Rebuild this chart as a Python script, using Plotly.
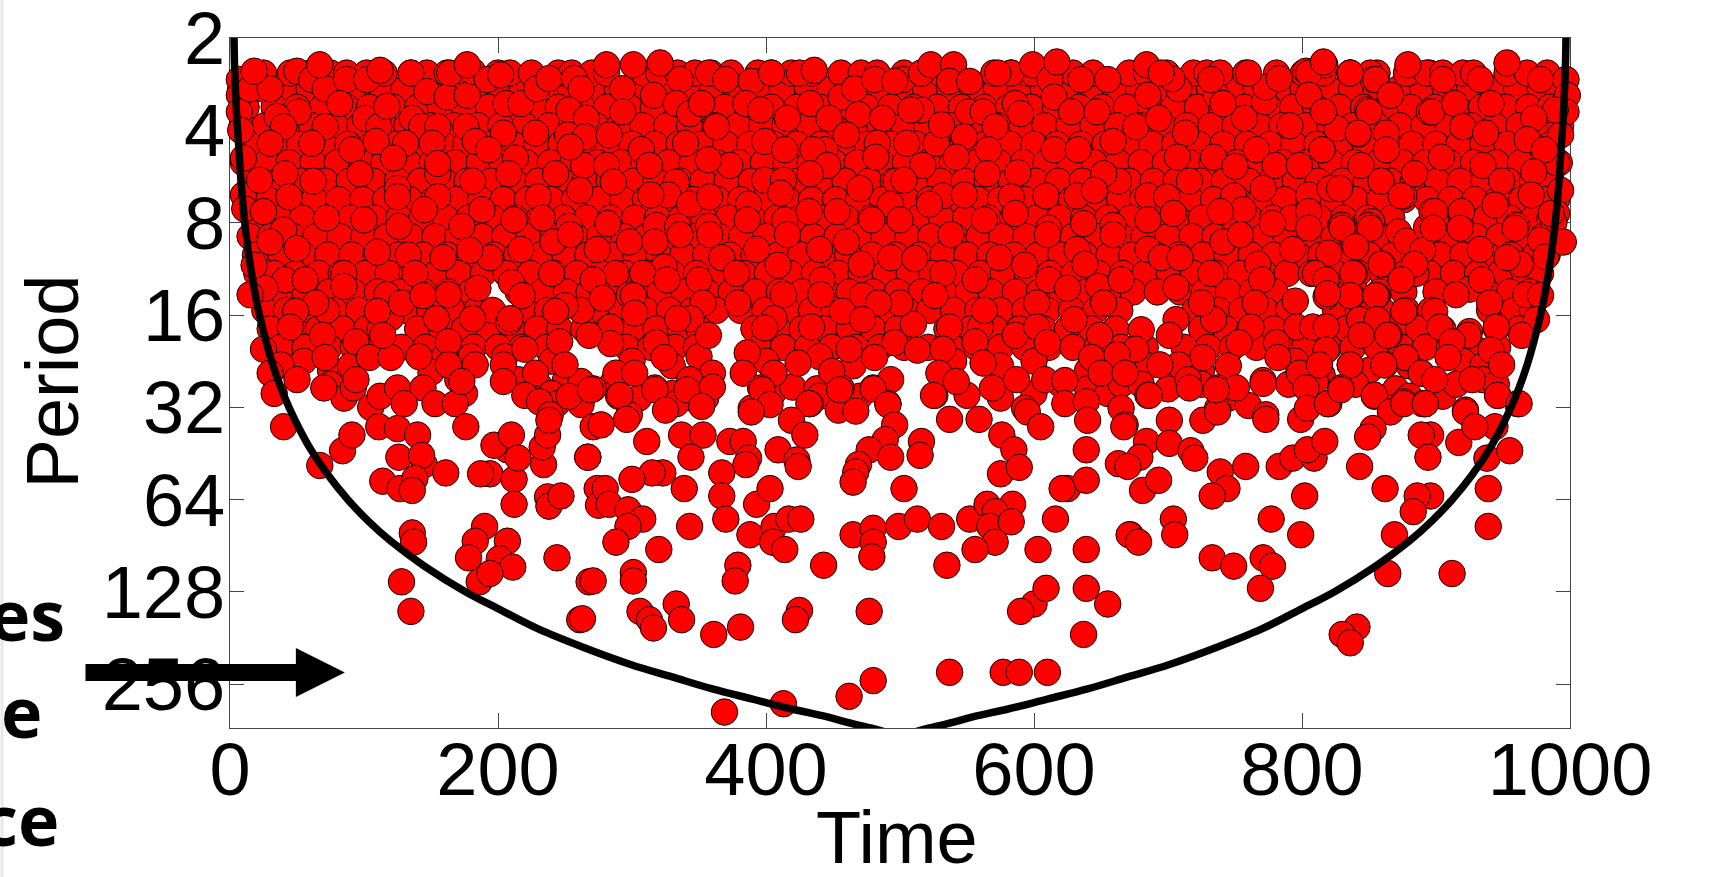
import plotly.graph_objects as go

# (time, log2 of period)
# Dense background rows, read as the solid red mass: log2 period -> times
row_155 = [8,24,43,59,78,96,113,130,149,165,184,201,218,237,254,272,289,307,324,343,360,378,395,412,431,448,466,483,502,519,537,554,572,590,607,625,642,661,678,696,713,731,749,766,784,801,820,837,855,872,890,907,925,943,960,978,991]
row_175 = [12,33,50,69,87,104,122,140,157,175,193,210,228,245,263,281,298,316,334,351,369,386,404,423,440,457,475,493,510,528,546,563,581,598,616,634,651,669,687,704,722,740,757,775,793,810,828,846,863,881,899,916,934,952,969,985]
row_195 = [9,26,45,61,79,97,115,132,150,167,185,202,220,238,255,273,291,308,326,343,362,379,397,414,432,450,467,485,503,520,538,556,573,591,608,626,644,662,679,697,714,732,750,768,785,803,821,838,856,873,891,909,926,944,962,979,993]
row_215 = [14,35,52,70,88,106,124,141,159,176,194,211,229,247,264,282,300,317,335,352,370,388,406,423,441,458,476,494,512,529,547,564,582,600,617,635,653,670,688,705,723,741,759,776,794,811,829,847,865,882,900,917,935,953,971,986]
row_235 = [10,27,44,62,80,98,115,133,151,168,186,203,221,239,256,274,292,309,327,345,363,380,398,415,433,451,468,486,504,521,539,557,574,592,609,627,645,663,680,698,716,733,751,769,786,804,822,839,857,875,892,910,928,945,963,980,992]
row_255 = [16,36,53,71,89,107,125,142,160,177,195,212,230,248,265,283,301,318,336,353,371,389,407,424,442,459,477,495,513,530,548,565,583,601,618,636,654,671,689,706,724,742,760,777,795,812,830,848,866,883,901,918,936,954,972,986]
row_275 = [12,28,46,63,81,99,116,134,152,169,187,204,222,240,257,275,293,310,328,346,364,381,399,416,434,452,469,487,505,522,540,558,575,593,610,628,646,664,681,699,717,734,752,770,787,805,823,840,858,876,893,911,929,946,964,981,990]
row_295 = [18,37,54,72,90,108,126,143,161,178,196,213,231,249,266,284,302,319,337,354,372,390,408,425,443,460,478,496,514,531,549,566,584,602,619,637,655,672,690,707,725,743,761,778,796,813,831,849,867,902,919,937,955,973,985]
row_315 = [15,30,47,64,82,100,117,135,153,170,188,205,223,241,258,276,294,311,329,347,365,382,400,417,435,453,470,488,506,523,541,559,576,594,611,629,647,665,682,700,718,735,753,771,788,806,824,841,859,899,912,930,947,965,980,988]
row_335 = [19,38,55,73,91,109,126,144,162,179,197,214,232,250,267,285,303,320,338,355,373,391,409,426,444,461,479,497,515,532,550,567,585,603,620,638,656,673,691,708,726,744,762,779,797,814,832,850,868,903,920,938,956,974,983]
row_355 = [20,33,49,66,83,101,118,136,154,171,189,206,224,242,259,277,295,312,330,348,366,383,401,418,436,454,471,489,507,524,542,560,577,595,612,630,648,666,683,701,719,736,754,772,789,807,825,842,860,877,895,913,931,948,966,978]
row_375 = [22,39,56,74,92,110,127,145,163,180,215,233,251,268,286,304,321,339,356,374,392,410,427,445,462,480,498,516,533,551,568,586,604,621,639,657,674,692,709,727,745,763,780,822,840,858,876,900,938,955,970]
row_395 = [26,42,60,78,96,113,131,149,166,184,220,237,275,292,310,328,345,363,381,399,416,434,451,469,487,505,522,540,558,575,593,610,628,646,664,720,738,755,773,790,825,842,860,878,896,940,958,972]
row_415 = [30,48,66,84,102,112,140,158,175,193,211,229,246,264,282,300,318,336,350,391,409,427,444,462,480,498,535,553,571,589,607,625,643,661,725,743,761,779,797,815,833,851,869,887,905,945,962]
row_435 = [38,56,74,92,110,128,146,164,182,200,218,236,296,314,332,348,395,413,431,449,467,485,503,521,539,557,575,593,611,629,647,665,683,712,730,748,766,784,802,820,838,856,874,892,910,928,946]
scattered_450 = [(55,4.5),(75,4.6),(90,4.55),(160,4.45),(180,4.45),(205,4.45),(240,4.5),(300,4.5),(330,4.55),(350,4.45),(400,4.5),(440,4.45),(465,4.55),(540,4.5),(575,4.55),(600,4.5),(640,4.6),(685,4.55),(725,4.6),(745,4.55),(795,4.5),(815,4.65),(850,4.6),(880,4.55),(920,4.5),(935,4.55)]
scattered_hole_edges = [(110,3.32),(196,3.95),(208,4.08),(262,3.95),(250,3.90),(872,3.10),(878,3.20),(120,4.03),
    (925,3.72),(915,3.78),(925,4.18),(893,3.05),(890,3.30),(795,3.85),(680,4.16),(510,4.10),(210,3.65)]
scattered_475 = [(75,4.75),(85,4.9),(105,5.0),(150,4.62),(170,4.7),(175,4.85),(215,4.7),(230,4.75),(250,4.72),(262,4.72),(240,4.85),(262,4.97),(285,4.75),(305,4.9),(345,4.9),(330,4.85),(355,4.9),(405,4.85),(420,4.78),(438,4.8),(440,4.88),(470,4.88),(550,4.87),(575,4.9),(600,4.85),(620,4.75),(640,4.8),(655,4.85),(665,4.75),(680,4.75),(700,4.8),(725,4.75),(745,4.9),(760,4.98),(790,4.75),(810,4.72),(840,4.75),(870,4.8),(880,4.88),(905,4.88),(915,4.75),(935,4.7),(945,4.75)]
top_times = [18,25,45,60,75,87,102,115,135,147,162,177,200,209,225,245,255,270,281,
    309,320,334,347,359,374,394,404,419,434,456,471,483,503,516,530,540,570,583,595,
    599,614,629,644,671,684,699,719,729,739,758,781,801,816,836,856,880,895,
    851,878,893,905,920,928,953,968,983]
right_left_edges = [(7,1.45),(7,1.62),(7,1.80),(8,2.0),(10,2.3),(10,2.7),(11,2.85),
    (997,1.45),(998,1.62),(997,1.80),(993,2.05),(990,2.35),(993,2.65),(990,2.9),(988,3.0)]
upper_a = [(15,1.55),(30,1.55),(50,1.36),(61,1.45),(71,1.55),(67,1.29),(18,1.36),(87,1.45),(102,1.45),(135,1.38),(147,1.58),(162,1.64),(177,1.62),(164,1.38),(181,1.36),(192,1.45),(206,1.71),(217,1.71),(229,1.55),(238,1.44),(257,1.44),(262,1.55),(281,1.29),(293,1.55),(253,1.78),(266,1.87),(293,1.80),(177,1.29),(202,1.40),(112,1.35),
(51,1.80),(35,1.85),(40,1.96),(71,1.96),(82,1.71),(101,1.87),(111,1.96),(117,1.74),(136,1.87),(143,1.96),(155,1.96),(176,1.96),(204,2.03),(228,2.03),(252,2.05),(265,2.07),(283,2.05),
(30,2.14),(61,2.14),(91,2.21),(109,2.12),(131,2.14),(122,2.30),(151,2.14),(183,2.12),(193,2.21),(213,2.30),(264,2.38),(281,2.38),(254,2.18),
(22,2.54),(41,2.47),(62,2.55),(97,2.47),(155,2.47),(181,2.55),(208,2.47),(243,2.47),(155,2.36),
(44,2.72),(25,2.88),(72,2.95),(100,2.97),(125,2.63),(155,2.72),(188,2.86),(230,2.72),(261,2.65),(286,2.56),(125,2.72),(145,2.86),(233,2.95),(253,3.04),(126,3.04),(40,3.08),(173,3.04),(212,2.97),(282,3.01)]
upper_b = [(301,1.29),(321,1.27),(336,1.45),(357,1.38),(370,1.45),(389,1.47),(404,1.38),(425,1.38),(436,1.35),(456,1.64),(466,1.55),(481,1.45),(502,1.45),(496,1.47),(516,1.38),(523,1.29),(540,1.29),(537,1.47),(552,1.47),(583,1.38),(573,1.38),(599,1.29),
(316,1.62),(333,1.71),(343,1.82),(352,1.71),(385,1.71),(396,1.78),(416,1.87),(433,1.71),(447,1.87),(469,1.83),(487,1.87),(516,1.78),(508,1.78),(551,1.80),(562,1.80),(586,1.71),(590,1.82),(571,1.96),
(363,1.96),(340,2.14),(307,2.21),(399,2.12),(414,2.21),(444,2.21),(460,2.05),(483,2.14),(505,2.14),(527,2.14),(566,2.21),(548,2.07),(531,1.94),(435,2.21),
(313,2.38),(373,2.38),(357,2.32),(399,2.54),(413,2.54),(446,2.38),(433,2.47),(482,2.29),(517,2.38),(542,2.29),(565,2.47),(588,2.46),(497,2.55),(503,2.54),(333,2.56),
(327,2.70),(343,2.80),(358,2.72),(314,2.70),(387,2.80),(411,2.68),(432,2.88),(453,2.88),(470,2.63),(493,2.80),(532,2.71),(522,2.80),(548,2.70),(583,2.72),(563,2.97),(479,2.97),(500,2.97),(414,2.97),(318,3.03),(334,3.04),(357,3.04),(586,2.90),(386,2.97)]
upper_c = [(612,1.45),(635,1.45),(655,1.45),(615,1.64),(628,1.80),(647,1.80),(685,1.62),(708,1.55),(736,1.62),(741,1.71),(772,1.69),(773,1.53),(805,1.62),(803,1.36),(817,1.29),(684,1.29),(617,1.26),(836,1.38),(853,1.45),(866,1.62),(849,1.78),(895,1.80),(760,1.38),(732,1.45),(703,1.44),(695,1.38),(783,1.44),
(676,1.96),(693,1.87),(713,2.03),(757,1.87),(791,1.95),(842,2.04),(863,2.21),(766,2.21),(734,2.29),(780,2.38),(815,2.21),(659,2.12),(615,2.21),(633,2.21),(826,1.98),
(798,2.38),(707,2.29),(716,2.55),(663,2.55),(652,2.47),(859,2.55),(828,2.63),(884,2.47),(844,2.38),(750,2.39),
(609,2.71),(632,2.71),(645,2.65),(685,2.71),(749,2.71),(771,2.63),(805,2.70),(876,2.71),(699,2.72),(704,2.90),(685,2.97),(756,2.86),(792,2.95),(778,3.01),(829,3.03),(852,2.99),(897,2.88),(637,3.01),(611,3.06),(659,3.03),(739,2.88),(821,2.63)]
upper_d = [(805,1.38),(816,1.26),(836,1.38),(855,1.45),(866,1.62),(805,1.62),(816,1.80),(850,1.80),(879,1.29),(905,1.45),(897,1.80),(914,1.71),(933,1.45),(953,1.27),(941,1.71),(978,1.45),(989,1.78),(973,1.87),(920,1.96),(842,2.03),(863,2.03),(937,2.03),(815,2.21),(863,2.21),(904,2.29),(968,2.10),(981,2.21),(884,2.47),(859,2.55),(935,2.38),(949,2.55),(828,2.63),(973,2.45),(971,2.70),(874,2.71),(944,2.81),(919,2.88),(899,2.88),(805,2.88),(830,3.03),(960,3.03),(986,2.90),(850,3.03)]
middle_a = [(30,3.21),(50,3.28),(41,3.62),(56,3.62),(26,3.71),(85,3.55),(85,3.69),(18,3.46),(15,3.78),(72,3.95),(64,3.87),(49,3.96),(45,4.13),(69,4.22),(94,4.29),(104,4.46),(120,4.46),(141,4.45),(117,3.78),(110,3.96),(114,4.22),(128,3.87),(133,3.35),(159,3.38),(138,3.55),(144,3.79),(163,3.78),(185,3.71),(194,3.38),(179,3.30),(217,3.29),(218,3.79),(240,3.55),(241,3.21),(274,3.29),(288,3.55),(271,3.62),(278,3.82),(254,3.13),(154,4.04),(181,4.04),(209,4.04),(163,4.29),(163,4.54),(183,4.54),(204,4.54),(220,4.37),(246,4.29),(243,3.96),(250,4.54),(228,4.63),(284,4.13),(284,4.31),(268,4.22),(298,3.21),(298,3.78),(25,4.37),(71,4.46),(38,4.54),(30,4.63),(50,4.70),(33,4.85),(70,4.79),(92,4.79),(94,4.70),(112,4.88),(125,4.79),(144,4.79),(130,4.96),(153,4.96),(168,4.96),(173,4.72),(204,4.72),(220,4.87),(244,4.96),(253,4.88),(271,4.80),(288,4.63),(290,4.88),(298,5.08),(231,4.94),(239,5.08)]
middle_b = [(317,3.21),(336,3.13),(358,3.13),(393,3.29),(416,3.13),(440,3.29),(460,3.21),(367,3.38),(324,3.48),(308,3.55),(326,3.62),(350,3.62),(378,3.55),(409,3.46),(471,3.45),(493,3.38),(511,3.39),(538,3.13),(574,3.38),(593,3.46),(532,3.55),(556,3.62),(442,3.62),(441,3.78),(413,3.78),(472,3.79),(526,3.79),(500,3.87),(484,3.87),(353,3.87),(379,3.87),(301,3.79),(302,3.98),(344,4.04),(334,4.04),(406,4.04),(399,4.14),(434,4.13),(457,3.96),(472,4.05),(537,4.13),(560,4.13),(586,4.22),(563,3.95),(357,4.22),(318,4.30),(324,4.46),(496,4.30),(513,4.38),(462,4.37),(481,4.46),(532,4.37),(556,4.29),(424,4.52),(386,4.41),(383,4.63),(406,4.63),(396,4.79),(360,4.63),(343,4.70),(317,4.79),(302,4.63),(456,4.79),(480,4.79),(493,4.70),(526,4.87),(529,4.63),(542,4.72),(569,4.79),(587,4.70),(433,4.96),(333,4.96),(449,4.61),(562,4.52),(491,4.96),(593,5.01),(389,5.01),(454,5.03)]
middle_c = [(610,3.13),(632,3.29),(638,3.45),(659,3.13),(685,3.29),(695,3.38),(709,3.38),(741,3.21),(754,3.13),(793,3.29),(732,3.55),(767,3.45),(770,3.62),(818,3.62),(839,3.55),(860,3.45),(885,3.55),(611,3.62),(625,3.71),(648,3.69),(665,3.62),(706,3.70),(839,3.24),(820,3.33),(602,3.87),(652,3.87),(630,4.05),(602,4.13),(706,4.05),(734,4.05),(765,3.87),(725,3.87),(837,3.79),(818,3.80),(856,3.79),(876,3.96),(843,4.05),(818,4.13),(796,4.13),(649,4.22),(701,4.22),(762,4.13),(753,4.30),(865,4.22),(781,4.30),(610,4.30),(676,4.37),(726,4.46),(782,4.46),(813,4.54),(836,4.54),(877,4.46),(643,4.46),(662,4.43),(818,4.38),(608,4.70),(623,4.71),(650,4.63),(668,4.63),(708,4.54),(694,4.54),(715,4.70),(737,4.79),(751,4.79),(771,4.71),(798,4.63),(829,4.79),(854,4.88),(889,4.63),(862,4.54),(623,4.96),(639,4.94),(685,4.87),(665,5.01),(737,5.01),(773,5.08),(890,4.96),(803,4.79)]
middle_d = [(805,3.06),(830,3.06),(851,3.06),(898,3.06),(918,3.06),(959,3.06),(933,3.29),(978,3.19),(963,3.45),(982,3.37),(995,3.21),(953,3.38),(859,3.45),(840,3.26),(884,3.45),(838,3.55),(810,3.55),(818,3.62),(934,3.62),(874,3.62),(836,3.79),(855,3.79),(819,3.77),(808,4.13),(876,3.96),(843,4.05),(856,4.05),(818,4.13),(899,3.96),(903,4.13),(844,4.22),(864,4.22),(940,3.87),(967,3.78),(978,3.79),(975,4.05),(945,4.13),(924,4.22),(912,4.29),(964,4.22),(818,4.38),(813,4.54),(836,4.54),(877,4.46),(861,4.54),(909,4.46),(941,4.38),(949,4.54),(889,4.63),(927,4.70),(946,4.87),(829,4.79),(854,4.87),(899,4.70),(866,5.01),(892,4.96),(820,4.96),(922,5.03),(961,4.96),(876,4.94)]
lower_a = [(40,5.21),(67,5.63),(84,5.47),(91,5.30),(111,5.21),(125,5.23),(140,5.30),(176,5.21),(126,5.54),(145,5.62),(143,5.52),(161,5.71),(114,5.80),(127,5.88),(138,5.77),(136,5.90),(136,6.36),(137,6.46),(190,6.29),(207,6.45),(183,6.45),(178,6.63),(201,6.64),(211,6.73),(186,6.89),(194,6.80),(244,6.63),(128,6.89),(135,7.21),(268,6.89),(261,7.30),(194,5.72),(187,5.72),(212,5.78),(212,6.05),(207,5.46),(197,5.41),(210,5.30),(215,5.55),(234,5.62),(233,5.43),(237,5.30),(238,5.14),(237,5.97),(238,6.07),(247,5.96),(267,5.54),(271,5.21),(274,5.88),(275,6.06)]
lower_b = [(269,4.81),(291,4.87),(317,4.81),(341,4.81),(360,4.78),(277,5.19),(296,5.13),(311,5.37),(325,5.03),(352,4.99),(397,4.81),(403,4.97),(389,5.05),(432,4.96),(419,5.14),(429,5.30),(455,4.81),(467,5.04),(480,4.80),(491,4.97),(496,5.19),(489,5.35),(477,5.46),(469,5.62),(467,5.70),(465,5.81),(525,4.87),(537,5.13),(559,5.13),(516,5.37),(493,5.54),(515,5.52),(576,5.30),(595,5.05),(605,5.21),(585,5.46),(575,5.72),(589,5.65),(640,5.14),(639,5.46),(668,5.19),(663,5.61),(625,5.88),(639,5.79),(621,5.88),(267,5.54),(337,5.30),(353,5.30),(373,5.37),(383,5.37),(387,5.55),(385,5.62),(409,5.46),(423,5.57),(424,5.64),(344,5.54),(323,5.71),(315,5.71),(300,5.78),(280,5.88),(283,6.05),(297,6.11),(308,6.21),(297,6.29),(288,6.46),(320,6.54),(339,5.88),(367,5.71),(367,5.96),(370,6.21),(393,6.05),(403,5.88),(388,6.38),(406,6.29),(417,6.21),(426,6.21),(405,6.46),(414,6.54),(343,6.29),(271,6.88),(301,6.79),(301,6.88),(379,6.71),(377,6.88),(443,6.71),(465,6.38),(480,6.31),(480,6.46),(479,6.62),(499,6.29),(513,6.21),(531,6.29),(552,6.21),(565,6.05),(584,6.05),(571,6.13),(567,6.29),(583,6.24),(571,6.46),(556,6.54),(616,6.21),(603,6.54),(639,6.54),(672,6.38),(535,6.71),(503,5.88),(263,7.29),(306,7.21),(313,7.30),(316,7.39),(333,7.13),(337,7.30),(361,7.46),(381,7.38),(425,7.20),(422,7.30),(477,7.21),(600,7.13),(590,7.21),(609,6.96),(639,6.96),(655,7.13),(637,7.46),(537,7.87),(577,7.87),(589,7.87),(610,7.87),(480,7.96),(462,8.13),(413,8.21),(369,8.30)]
lower_c = [(686,4.87),(701,5.14),(667,5.21),(726,5.14),(737,5.05),(716,4.79),(736,4.81),(771,4.74),(773,5.13),(799,5.13),(804,5.01),(819,4.96),(829,4.81),(854,4.87),(866,5.05),(876,4.96),(892,4.96),(922,5.05),(946,4.87),(962,4.96),(944,5.21),(896,5.30),(889,5.30),(917,5.38),(929,5.21),(853,5.23),(849,5.32),(684,5.37),(701,5.39),(717,5.47),(720,5.55),(679,5.54),(670,5.64),(681,5.90),(693,5.79),(739,5.70),(744,5.88),(733,5.96),(758,5.64),(783,5.64),(793,5.55),(809,5.55),(804,5.46),(817,5.37),(843,5.64),(862,5.88),(894,5.54),(938,5.55),(955,5.47),(896,5.96),(886,5.96),(883,6.13),(939,5.88),(802,5.96),(777,6.21),(704,6.21),(705,6.38),(671,6.38),(678,6.46),(799,6.38),(869,6.38),(939,6.29),(733,6.63),(749,6.72),(771,6.63),(778,6.72),(769,6.96),(864,6.80),(912,6.80),(841,7.38),(830,7.46),(836,7.55)]

coi_left_time = [3,3.4,4.2,5.2,6.4,8.2,11,13,16,19,22,27,32,38,44,52,60,73,88,103,120,145,176,200,230,262,300,330,360,390,420,445,460,478,490]
coi_right_time = [997,996.6,995.8,994.8,993.6,991.8,989,987,984,981,978,973,968,962,956,948,940,927,912,897,880,855,824,800,770,738,700,670,640,610,580,555,540,522,510]
coi_log2 = [1.0,1.3,1.6,1.9,2.15,2.55,3.0,3.24,3.54,3.79,4.0,4.29,4.54,4.79,5.0,5.24,5.45,5.73,6.0,6.23,6.45,6.72,7.0,7.18,7.40,7.59,7.79,7.92,8.05,8.16,8.27,8.35,8.41,8.473,8.52]

y_ticks = [1,2,3,4,5,6,7,8]
y_labels = ["2","4","8","16","32","64","128","256"]
x_ticks = [0,200,400,600,800,1000]

W, H = 1721, 877
L, R, T, B = 229.6, 1570.4, 38.1, 728.0
def px(x): return (x - L) / (R - L)
def py(y): return (B - y) / (B - T)

rows = [(1.55,row_155),(1.75,row_175),(1.95,row_195),(2.15,row_215),(2.35,row_235),(2.55,row_255),(2.75,row_275),(2.95,row_295),
        (3.15,row_315),(3.35,row_335),(3.55,row_355),(3.75,row_375),(3.95,row_395),(4.15,row_415),(4.35,row_435)]
points = [(t, o) for o, ts in rows for t in ts] + scattered_450 + scattered_475 + scattered_hole_edges + [(t, 1.38) for t in top_times]
points += right_left_edges + upper_a + upper_b + upper_c + upper_d + middle_a + middle_b + middle_c + middle_d + lower_a + lower_b + lower_c
time = [p[0] for p in points]
log2_period = [p[1] for p in points]

fig = go.Figure()
fig.add_trace(go.Scatter(x=time, y=log2_period, mode="markers", cliponaxis=False, showlegend=False,
    marker=dict(size=26.5, color="#ff0000", line=dict(color="#1a0000", width=1))))
for tx in (coi_left_time, coi_right_time):
    fig.add_trace(go.Scatter(x=tx, y=coi_log2, mode="lines", showlegend=False, cliponaxis=True,
        line=dict(color="black", width=7.5, shape="spline", smoothing=1)))

font = dict(family="Liberation Sans, Arial", size=74, color="black")
axis = dict(showgrid=False, zeroline=False, mirror="ticks", ticks="inside", showline=True,
            linecolor="#444", linewidth=1, tickcolor="#444", layer="below traces", tickfont=font,
            ticklabeloverflow="allow")
fig.update_xaxes(range=[0,1000], tickvals=x_ticks, ticklen=15, ticklabelstandoff=-23, **axis)
fig.update_yaxes(range=[8.473,1], tickvals=y_ticks, ticktext=y_labels, ticklen=14, ticklabelstandoff=-11, **axis)

shapes = [
    dict(type="rect", xref="paper", yref="paper", x0=px(0), x1=px(3), y0=py(877), y1=py(0),
         fillcolor="#e8e8e8", line_width=0, layer="above"),
    dict(type="path", xref="paper", yref="paper", fillcolor="black", line_width=0, layer="above",
         path=f"M{px(85)},{py(664)} L{px(295.5)},{py(664)} L{px(295.5)},{py(648)} L{px(344.5)},{py(672.5)} "
              f"L{px(295.5)},{py(697)} L{px(295.5)},{py(681)} L{px(85)},{py(681)} Z"),
]
anns = []
for txt, xr, yc in (("es", 67, 614), ("e", 43, 711), ("ce", 60, 819)):
    anns.append(dict(text=txt, xref="paper", yref="paper", x=px(xr), y=py(yc), xanchor="right", yanchor="middle",
                     showarrow=False, font=dict(family="Open Sans", size=70, color="black", weight="bold")))
anns.append(dict(text="Time", xref="paper", yref="paper", x=px(897), y=py(837), xanchor="center", yanchor="middle",
                 showarrow=False, font=font))
anns.append(dict(text="Period", xref="paper", yref="paper", x=px(52), y=py(382), textangle=-90, xanchor="center", yanchor="middle",
                 showarrow=False, font=font))
fig.update_layout(width=W, height=H, autosize=False, margin=dict(l=L, r=W-R, t=T, b=H-B, autoexpand=False),
    paper_bgcolor="white", plot_bgcolor="white", shapes=shapes, annotations=anns)
fig.write_html("out.html", config={"displayModeBar": False},
    post_script="document.body.style.margin='0';document.documentElement.style.overflow='hidden';")
